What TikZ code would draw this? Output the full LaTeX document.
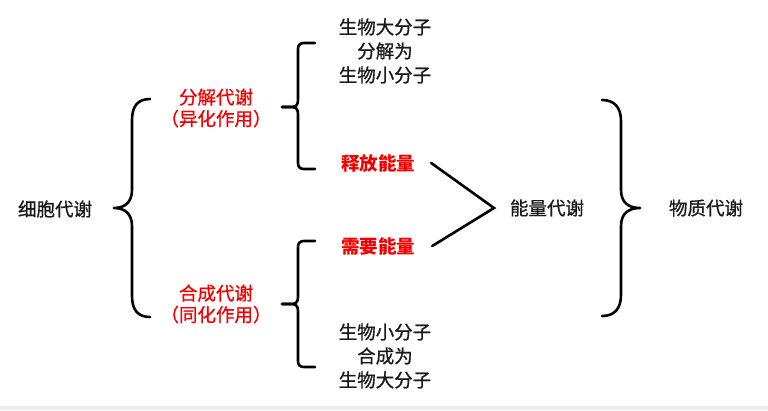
\documentclass[tikz,border=0pt]{standalone}
\usepackage{fontspec}
\setmainfont{Noto Sans CJK SC}
\newfontfamily\cjkmed{Noto Sans CJK SC}[RawFeature={embolden=0.8}]
\definecolor{txtred}{HTML}{F50000}
\definecolor{txtblack}{HTML}{1A1A1A}
\begin{document}
\begin{tikzpicture}[x=1pt,y=-1pt,
  lbl/.style={inner sep=0pt,align=center,text=txtblack,font=\cjkmed\fontsize{18.5}{24}\selectfont},
  redlbl/.style={inner sep=0pt,align=center,text=txtred,font=\cjkmed\fontsize{18.5}{21.5}\selectfont},
  redbold/.style={inner sep=0pt,align=center,text=txtred,font=\fontsize{18.5}{24}\selectfont\bfseries},
  bracestroke/.style={draw=black,line width=2.6pt,line cap=round,line join=round},
  vline/.style={draw=black,line width=2.6pt,line cap=round,line join=miter}]
\useasboundingbox (0,0) rectangle (768,410);
\fill[white] (0,0) rectangle (768,410);
\fill[black!7] (0,406) rectangle (768,410);

% texts
\node[lbl] (cell) at (55,209) {细胞代谢};
\node[redlbl] (cat) at (216,108) {分解代谢\\（异化作用）};
\node[redlbl] (ana) at (216,304) {合成代谢\\（同化作用）};
\node[lbl] (top3) at (385,51) {生物大分子\\分解为\\生物小分子};
\node[redbold] (rel) at (378,163) {释放能量};
\node[redbold] (need) at (378,246) {需要能量};
\node[lbl] (bot3) at (385,356) {生物小分子\\合成为\\生物大分子};
\node[lbl] (energy) at (547,208) {能量代谢};
\node[lbl] (matter) at (706,208) {物质代谢};

% left big brace
\draw[bracestroke] (150,99) .. controls (138,99) and (132,106) .. (132,120)
  -- (132,190) .. controls (132,202) and (125,208) .. (114,208)
  .. controls (125,208) and (132,214) .. (132,226)
  -- (132,296) .. controls (132,310) and (138,317) .. (150,317);

% upper small brace
\draw[bracestroke] (315,43) -- (304,43) .. controls (300,43) and (298,45) .. (298,49)
  -- (298,100) .. controls (298,105) and (296,107) .. (291,107) -- (282,107);
\draw[bracestroke] (282,107) -- (291,107) .. controls (296,107) and (298,109) .. (298,114)
  -- (298,163) .. controls (298,167) and (300,169) .. (304,169) -- (315,169);

% lower small brace
\draw[bracestroke] (315,241) -- (304,241) .. controls (300,241) and (298,243) .. (298,247)
  -- (298,297) .. controls (298,302) and (296,304) .. (291,304) -- (282,304);
\draw[bracestroke] (282,304) -- (291,304) .. controls (296,304) and (298,306) .. (298,311)
  -- (298,361) .. controls (298,365) and (300,367) .. (304,367) -- (315,367);

% right big brace
\draw[bracestroke] (602,100) .. controls (614,100) and (621,107) .. (621,121)
  -- (621,190) .. controls (621,202) and (628,208) .. (640,208)
  .. controls (628,208) and (621,214) .. (621,226)
  -- (621,295) .. controls (621,309) and (614,316) .. (602,316);

% V connector
\coordinate (apex) at (494,208);
\draw[vline] ([xshift=16pt]rel.east) -- (apex) -- ([xshift=17pt]need.east);
\end{tikzpicture}
\end{document}
